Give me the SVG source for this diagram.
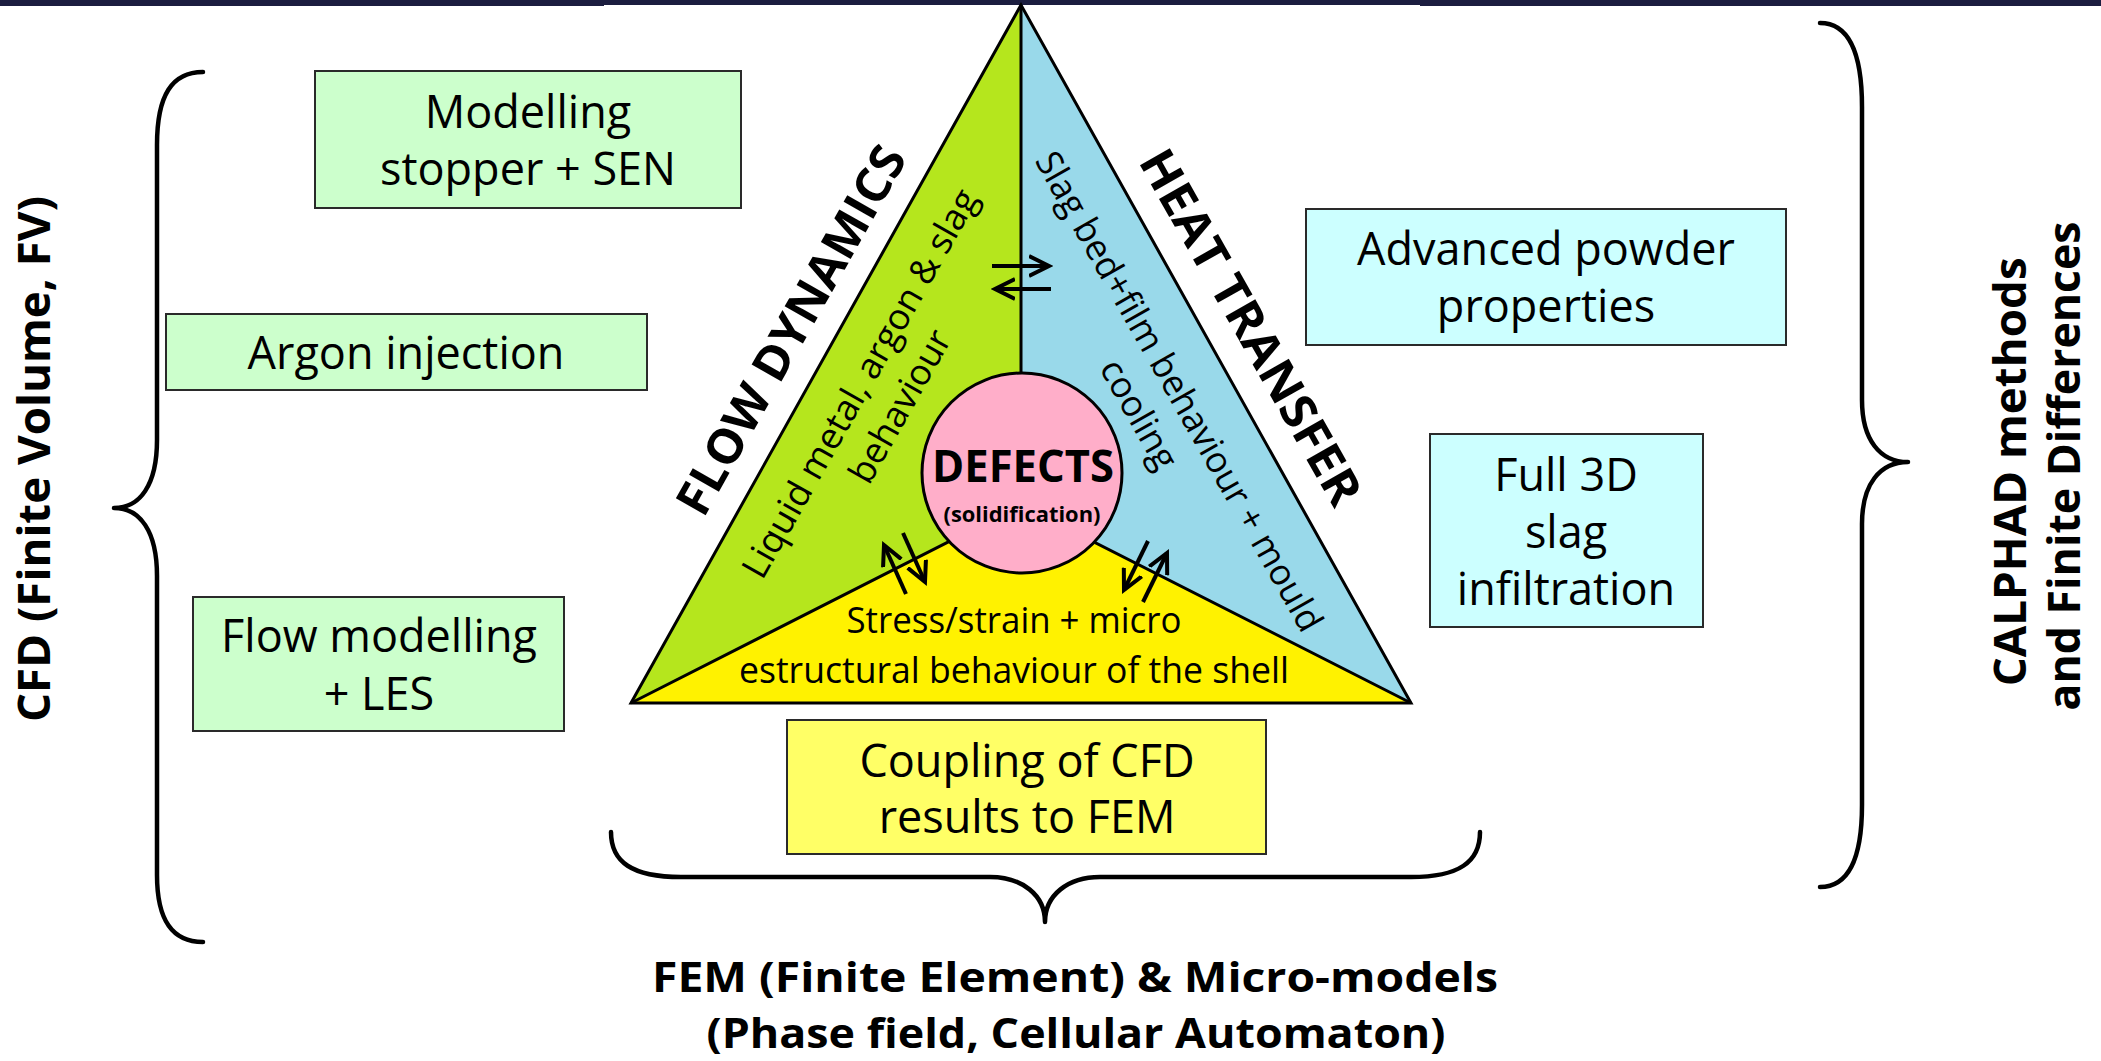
<svg xmlns="http://www.w3.org/2000/svg" width="2101" height="1061" viewBox="0 0 2101 1061">
  <style>
    .box { stroke: #2a2a2a; stroke-width: 2; }
    .g { fill: #ccffcc; }
    .c { fill: #ccffff; }
    .y { fill: #ffff66; }
    .t { font-family: "Open Sans", "Noto Sans", "DejaVu Sans", sans-serif; fill: #000; text-anchor: middle; }
    .bt { font-size: 45px; }
    .in { font-size: 36px; }
    .b { font-weight: bold; }
    .brace { fill: none; stroke: #000; stroke-width: 4.5; stroke-linecap: round; stroke-linejoin: round; }
    .edge { fill: none; stroke: #000; stroke-width: 3; stroke-linejoin: miter; }
    .arrow { fill: none; stroke: #000; stroke-width: 4; marker-end: url(#head); }
  </style>
  <defs>
    <marker id="head" viewBox="0 0 12 12" refX="10" refY="6" markerWidth="6" markerHeight="6" orient="auto" markerUnits="strokeWidth">
      <path d="M0,1 L10,6 L0,11" fill="none" stroke="#000" stroke-width="2"/>
    </marker>
  </defs>

  <rect width="2101" height="1061" fill="#ffffff"/>

  <!-- header band -->
  <g id="header-band" fill="#1b1d3f">
    <rect x="0" y="0" width="604" height="6"/>
    <rect x="603" y="0" width="818" height="5"/>
    <rect x="1420" y="0" width="681" height="6"/>
  </g>

  <!-- central triangle: flow / heat / stress sectors -->
  <g id="triangle">
    <polygon points="1021,5 631,703 1021,505" fill="#b5e61d"/>
    <polygon points="1021,5 1411,703 1021,505" fill="#99d9ea"/>
    <polygon points="631,703 1411,703 1021,505" fill="#fff200"/>
    <line x1="1021" y1="5" x2="1021" y2="400" class="edge"/>
    <polyline points="631,703 1021,505 1411,703" class="edge"/>
    <polygon points="1021,5 631,703 1411,703" class="edge"/>
  </g>

  <g id="flow-dynamics">
    <text class="t b" font-size="48" transform="translate(791,330) rotate(-60.5)" y="17" textLength="415" lengthAdjust="spacingAndGlyphs">FLOW DYNAMICS</text>
    <g transform="translate(882,396) rotate(-60.5)">
      <text class="t in" y="-13" textLength="440" lengthAdjust="spacingAndGlyphs">Liquid metal, argon &amp; slag</text>
      <text class="t in" y="33">behaviour</text>
    </g>
  </g>

  <g id="heat-transfer">
    <text class="t b" font-size="48" transform="translate(1251,327) rotate(60.5)" y="17" textLength="400" lengthAdjust="spacingAndGlyphs">HEAT TRANSFER</text>
    <g transform="translate(1157,404) rotate(60.5)">
      <text class="t in" y="-13" textLength="545" lengthAdjust="spacingAndGlyphs">Slag bed+film behaviour + mould</text>
      <text class="t in" y="33">cooling</text>
    </g>
  </g>

  <g id="stress-strain">
    <text class="t in" x="1014" y="633" textLength="335" lengthAdjust="spacingAndGlyphs">Stress/strain + micro</text>
    <text class="t in" x="1014" y="683" textLength="550" lengthAdjust="spacingAndGlyphs">estructural behaviour of the shell</text>
  </g>

  <g id="defects">
    <circle cx="1022" cy="473" r="100" fill="#ffaec9" stroke="#000" stroke-width="3"/>
    <text class="t b" font-size="44" x="1023" y="482" textLength="182" lengthAdjust="spacingAndGlyphs">DEFECTS</text>
    <text class="t b" font-size="21.5" x="1022" y="522" textLength="157" lengthAdjust="spacingAndGlyphs">(solidification)</text>
  </g>

  <!-- exchange arrows between the sectors -->
  <g id="connectors">
    <line class="arrow" x1="992" y1="266" x2="1049" y2="266"/>
    <line class="arrow" x1="1051" y1="289" x2="995" y2="289"/>
    <line class="arrow" x1="906" y1="594" x2="884" y2="545"/>
    <line class="arrow" x1="903" y1="533" x2="925" y2="582"/>
    <line class="arrow" x1="1148" y1="541" x2="1124" y2="590"/>
    <line class="arrow" x1="1143" y1="602" x2="1167" y2="553"/>
  </g>

  <!-- CFD side -->
  <g id="box-stopper">
    <rect class="box g" x="315" y="71" width="426" height="137"/>
    <text class="t bt" x="528" y="128">Modelling</text>
    <text class="t bt" x="528" y="185">stopper + SEN</text>
  </g>
  <g id="box-argon">
    <rect class="box g" x="166" y="314" width="481" height="76"/>
    <text class="t bt" x="406" y="369">Argon injection</text>
  </g>
  <g id="box-les">
    <rect class="box g" x="193" y="597" width="371" height="134"/>
    <text class="t bt" x="379" y="652">Flow modelling</text>
    <text class="t bt" x="379" y="710">+ LES</text>
  </g>

  <!-- heat transfer side -->
  <g id="box-powder">
    <rect class="box c" x="1306" y="209" width="480" height="136"/>
    <text class="t bt" x="1546" y="265">Advanced powder</text>
    <text class="t bt" x="1546" y="322">properties</text>
  </g>
  <g id="box-infiltration">
    <rect class="box c" x="1430" y="434" width="273" height="193"/>
    <text class="t bt" x="1566" y="491">Full 3D</text>
    <text class="t bt" x="1566" y="548">slag</text>
    <text class="t bt" x="1566" y="605">infiltration</text>
  </g>

  <!-- FEM side -->
  <g id="box-coupling">
    <rect class="box y" x="787" y="720" width="479" height="134"/>
    <text class="t bt" x="1027" y="777">Coupling of CFD</text>
    <text class="t bt" x="1027" y="833">results to FEM</text>
  </g>

  <!-- method braces and captions -->
  <g id="cfd-group">
    <path class="brace" d="M203,72 C172,72 157,95 157,145 L157,440 C157,485 140,508 114,508 C140,508 157,531 157,576 L157,875 C157,920 172,942 203,942"/>
    <text class="t b" font-size="45" transform="translate(50,459) rotate(-90)" textLength="526" lengthAdjust="spacingAndGlyphs">CFD (Finite Volume, FV)</text>
  </g>
  <g id="calphad-group">
    <path class="brace" d="M1820,23 C1848,23 1862,50 1862,107 L1862,400 C1862,440 1880,462 1908,462 C1880,462 1862,484 1862,524 L1862,805 C1862,860 1848,887 1820,887"/>
    <text class="t b" font-size="45" transform="translate(2026,466) rotate(-90)">
      <tspan x="0" y="0" textLength="429" lengthAdjust="spacingAndGlyphs">CALPHAD methods</tspan>
      <tspan x="0" y="54" textLength="489" lengthAdjust="spacingAndGlyphs">and Finite Differences</tspan>
    </text>
  </g>
  <g id="fem-group">
    <path class="brace" d="M611,832 C611,862 632,877 681,877 L990,877 C1022,877 1045,895 1045,922 C1045,895 1068,877 1100,877 L1411,877 C1459,877 1480,862 1480,832"/>
    <text class="t b" font-size="41" x="1075" y="992" textLength="846" lengthAdjust="spacingAndGlyphs">FEM (Finite Element) &amp; Micro-models</text>
    <text class="t b" font-size="41" x="1076" y="1048" textLength="739" lengthAdjust="spacingAndGlyphs">(Phase field, Cellular Automaton)</text>
  </g>
</svg>
